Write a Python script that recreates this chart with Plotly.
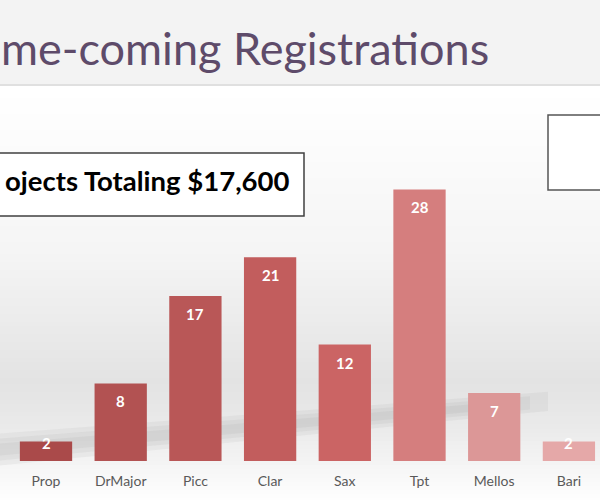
import plotly.graph_objects as go

# values
categories = ["Prop", "DrMajor", "Picc", "Clar", "Sax", "Tpt", "Mellos", "Bari"]
registrations = [2, 8, 17, 21, 12, 28, 7, 2]
bar_colors = ["#aa4a4a", "#b25252", "#b95757", "#c25d5d", "#cb6464", "#d57e7e", "#dc9797", "#e5a8a8"]

title_text = "me-coming Registrations"
total_text = "ojects Totaling $17,600"

W, H = 600, 500
M_T, M_B = 100, 39
PLOT_H = H - M_T - M_B


def py(y):
    # pixel row (from top of the page) -> paper y
    return (H - M_B - y) / PLOT_H


def px(x):
    return x / W


def mix(c1, c2, t):
    a = [int(c1[i:i + 2], 16) for i in (1, 3, 5)]
    b = [int(c2[i:i + 2], 16) for i in (1, 3, 5)]
    return "#" + "".join(f"{round(u + (v - u) * t):02x}" for u, v in zip(a, b))


fig = go.Figure()
fig.add_trace(
    go.Bar(
        x=categories,
        y=registrations,
        marker=dict(color=bar_colors, line=dict(width=0)),
        hoverinfo="skip",
    )
)

shapes = []
# soft background gradient below the header band
stops = [(86, "#ffffff"), (250, "#f5f5f5"), (380, "#e3e3e3"), (425, "#eaeaea"), (470, "#f7f7f7"), (500, "#ffffff")]
for (y0, c0), (y1, c1) in zip(stops[:-1], stops[1:]):
    step = 4
    y = y0
    while y < y1:
        t = (y - y0) / (y1 - y0)
        shapes.append(dict(type="rect", xref="paper", yref="paper", x0=0, x1=1,
                           y0=py(y + step), y1=py(y), fillcolor=mix(c0, c1, t),
                           line=dict(width=0), layer="below"))
        y += step

# blurred floor shadow behind the bars (stacked translucent bands, fading to the right)
for half, x_end in ((16, 548), (11, 530), (6, 505)):
    y_end = 450 - (450 - 402) * x_end / 540
    path = (f"M {px(-5)},{py(450 - half)} L {px(x_end)},{py(y_end - half * 0.6)} "
            f"L {px(x_end)},{py(y_end + half * 0.6)} L {px(-5)},{py(450 + half)} Z")
    shapes.append(dict(type="path", xref="paper", yref="paper", path=path,
                       fillcolor="rgba(120,120,120,0.07)", line=dict(width=0), layer="below"))

# header band and its rule
shapes.append(dict(type="rect", xref="paper", yref="paper", x0=0, x1=1, y0=py(84), y1=py(0),
                   fillcolor="#f3f3f3", line=dict(width=0), layer="below"))
shapes.append(dict(type="line", xref="paper", yref="paper", x0=0, x1=1, y0=py(85), y1=py(85),
                   line=dict(color="#d6d6d6", width=1.5), layer="below"))

# text boxes
shapes.append(dict(type="rect", xref="paper", yref="paper", x0=px(-10), x1=px(304),
                   y0=py(216), y1=py(153), fillcolor="#ffffff",
                   line=dict(color="#404040", width=1.5)))
shapes.append(dict(type="rect", xref="paper", yref="paper", x0=px(548), x1=px(612),
                   y0=py(190), y1=py(115), fillcolor="#ffffff",
                   line=dict(color="#555555", width=1.5)))

annotations = [
    dict(text=title_text, xref="paper", yref="paper", x=px(-1), y=py(48), xanchor="left", yanchor="middle",
         showarrow=False, font=dict(family="Lato", size=45, color="#5e4b6a")),
    dict(text=f"<b>{total_text}</b>", xref="paper", yref="paper", x=px(291), y=py(180), xanchor="right",
         yanchor="middle", showarrow=False, font=dict(family="Lato", size=27.5, color="#000000")),
]
for cat, val in zip(categories, registrations):
    shift = -18 if val > 4 else -1
    annotations.append(dict(x=cat, y=val, text=f"<b>{val}</b>", yshift=shift, showarrow=False,
                            yanchor="middle", font=dict(family="Lato", size=15, color="#ffffff")))

fig.update_layout(
    width=W,
    height=H,
    margin=dict(l=0, r=0, t=M_T, b=M_B),
    paper_bgcolor="#ffffff",
    plot_bgcolor="rgba(0,0,0,0)",
    showlegend=False,
    bargap=0.3,
    shapes=shapes,
    annotations=annotations,
    xaxis=dict(range=[-46 / 74.7, (600 - 46) / 74.7], showgrid=False, zeroline=False, showline=False,
               ticks="", ticklabelstandoff=10, tickfont=dict(family="Lato", size=14, color="#595959"),
               fixedrange=True),
    yaxis=dict(range=[0, PLOT_H / 9.7], visible=False, fixedrange=True),
)

# drop the browser's default page margin so the figure sits at the window corner
fig.write_html(
    "out.html",
    config={"displayModeBar": False},
    post_script="document.body.style.margin='0';document.body.style.overflow='hidden';",
)
